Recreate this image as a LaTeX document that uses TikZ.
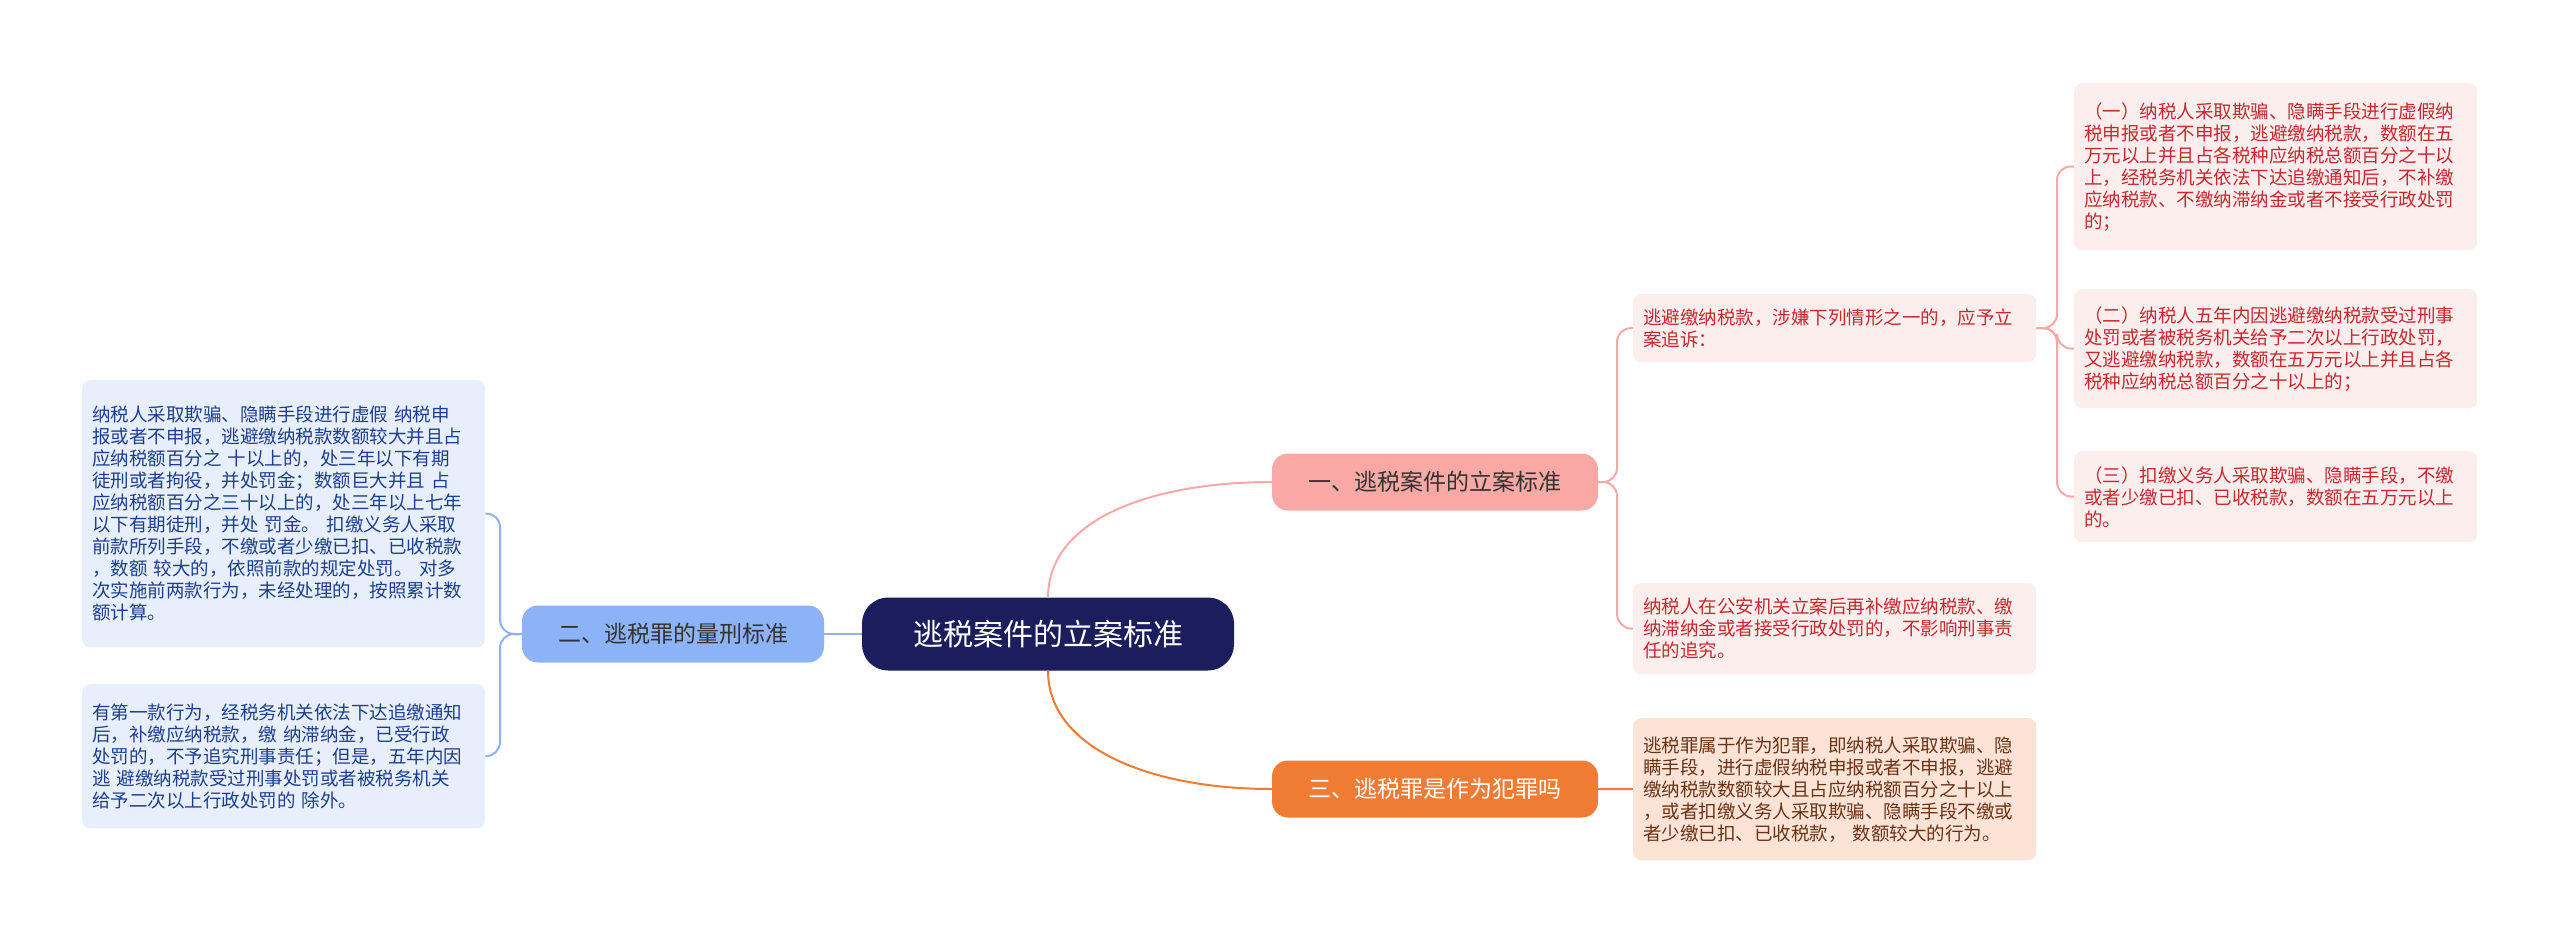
\documentclass[tikz,border=0pt]{standalone}
\usepackage{fontspec}
\setmainfont{Noto Sans CJK SC}
\begin{document}
\begin{tikzpicture}[x=1pt,y=-1pt,
 leaf/.style={rounded corners=8pt, minimum width=403pt, align=left, text width=383pt, inner xsep=10pt, font=\fontsize{18.5}{22}\selectfont, anchor=north west},
 pinkleaf/.style={leaf, fill=pinkbg, text=pinktx},
 blueleaf/.style={leaf, fill=bluebg, text=bluetx},
 oraleaf/.style={leaf, fill=orabg, text=oratx},
 branch/.style={rounded corners=16pt, minimum width=326pt, minimum height=57pt, font=\fontsize{23}{26}\selectfont},
 conn/.style={line width=2pt, rounded corners=14pt}]
\definecolor{rootc}{HTML}{1B1D5C}
\definecolor{b1}{HTML}{F8A9A6}
\definecolor{b2}{HTML}{8DB3F7}
\definecolor{b3}{HTML}{F07B33}
\definecolor{pinkbg}{HTML}{FDEEEE}
\definecolor{pinktx}{HTML}{C8282E}
\definecolor{bluebg}{HTML}{E8EFFC}
\definecolor{bluetx}{HTML}{1E3F8F}
\definecolor{orabg}{HTML}{FCE3D6}
\definecolor{oratx}{HTML}{6B3316}
\useasboundingbox (0,0) rectangle (2560,944);
\fill[white] (0,0) rectangle (2560,944);

\node[fill=rootc, text=white, rounded corners=26pt, minimum width=372pt, minimum height=73pt, font=\fontsize{30}{34}\selectfont] (root) at (1048,634) {逃税案件的立案标准};
\node[branch, fill=b1, text=black!80] (br1) at (1435,482) {一、逃税案件的立案标准};
\node[branch, fill=b2, minimum width=302pt, text=black!80] (br2) at (673,634) {二、逃税罪的量刑标准};
\node[branch, fill=b3, text=white] (br3) at (1435,789) {三、逃税罪是作为犯罪吗};

\node[pinkleaf, minimum height=68pt] (l1a) at (1633,294) {逃避缴纳税款，涉嫌下列情形之一的，应予立\\案追诉：};
\node[pinkleaf, minimum height=91pt] (l1b) at (1633,583) {纳税人在公安机关立案后再补缴应纳税款、缴\\纳滞纳金或者接受行政处罚的，不影响刑事责\\任的追究。};
\node[pinkleaf, minimum height=167pt] (c1) at (2074,83) {（一）纳税人采取欺骗、隐瞒手段进行虚假纳\\税申报或者不申报，逃避缴纳税款，数额在五\\万元以上并且占各税种应纳税总额百分之十以\\上，经税务机关依法下达追缴通知后，不补缴\\应纳税款、不缴纳滞纳金或者不接受行政处罚\\的；};
\node[pinkleaf, minimum height=119pt] (c2) at (2074,289) {（二）纳税人五年内因逃避缴纳税款受过刑事\\处罚或者被税务机关给予二次以上行政处罚，\\又逃避缴纳税款，数额在五万元以上并且占各\\税种应纳税总额百分之十以上的；};
\node[pinkleaf, minimum height=91pt] (c3) at (2074,451) {（三）扣缴义务人采取欺骗、隐瞒手段，不缴\\或者少缴已扣、已收税款，数额在五万元以上\\的。};
\node[oraleaf, minimum height=142pt] (l3) at (1633,718) {逃税罪属于作为犯罪，即纳税人采取欺骗、隐\\瞒手段，进行虚假纳税申报或者不申报，逃避\\缴纳税款数额较大且占应纳税额百分之十以上\\，或者扣缴义务人采取欺骗、隐瞒手段不缴或\\者少缴已扣、已收税款，\ 数额较大的行为。};
\node[blueleaf, minimum height=267pt] (l2a) at (82,380) {纳税人采取欺骗、隐瞒手段进行虚假 纳税申\\报或者不申报，逃避缴纳税款数额较大并且占\\应纳税额百分之 十以上的，处三年以下有期\\徒刑或者拘役，并处罚金；数额巨大并且 占\\应纳税额百分之三十以上的，处三年以上七年\\以下有期徒刑，并处 罚金。 扣缴义务人采取\\前款所列手段，不缴或者少缴已扣、已收税款\\，数额 较大的，依照前款的规定处罚。 对多\\次实施前两款行为，未经处理的，按照累计数\\额计算。};
\node[blueleaf, minimum height=144pt] (l2b) at (82,684) {有第一款行为，经税务机关依法下达追缴通知\\后，补缴应纳税款，缴 纳滞纳金，已受行政\\处罚的，不予追究刑事责任；但是，五年内因\\逃 避缴纳税款受过刑事处罚或者被税务机关\\给予二次以上行政处罚的 除外。};

% root to branches
\draw[line width=2pt, b1] (root.north) .. controls (1048,520) and (1150,482) .. (br1.west);
\draw[line width=2pt, b3] (root.south) .. controls (1048,748) and (1150,789) .. (br3.west);
\draw[line width=2pt, b2] (root.west) -- (br2.east);

% branch 1
\draw[conn, b1] (br1.east) -- (1617,482) -- (1617,328) -- (l1a.west);
\draw[conn, b1] (br1.east) -- (1617,482) -- (1617,628) -- (l1b.west);
\draw[conn, b1] (l1a.east) -- (2057,328) -- (2057,166) -- (c1.west);
\draw[conn, b1] (l1a.east) -- (2057,328) -- (2057,348) -- (c2.west);
\draw[conn, b1] (l1a.east) -- (2057,328) -- (2057,496) -- (c3.west);
% branch 2
\draw[conn, b2] (br2.west) -- (500,634) -- (500,513) -- (l2a.east);
\draw[conn, b2] (br2.west) -- (500,634) -- (500,756) -- (l2b.east);
% branch 3
\draw[line width=2pt, b3] (br3.east) -- (l3.west);
\end{tikzpicture}
\end{document}
